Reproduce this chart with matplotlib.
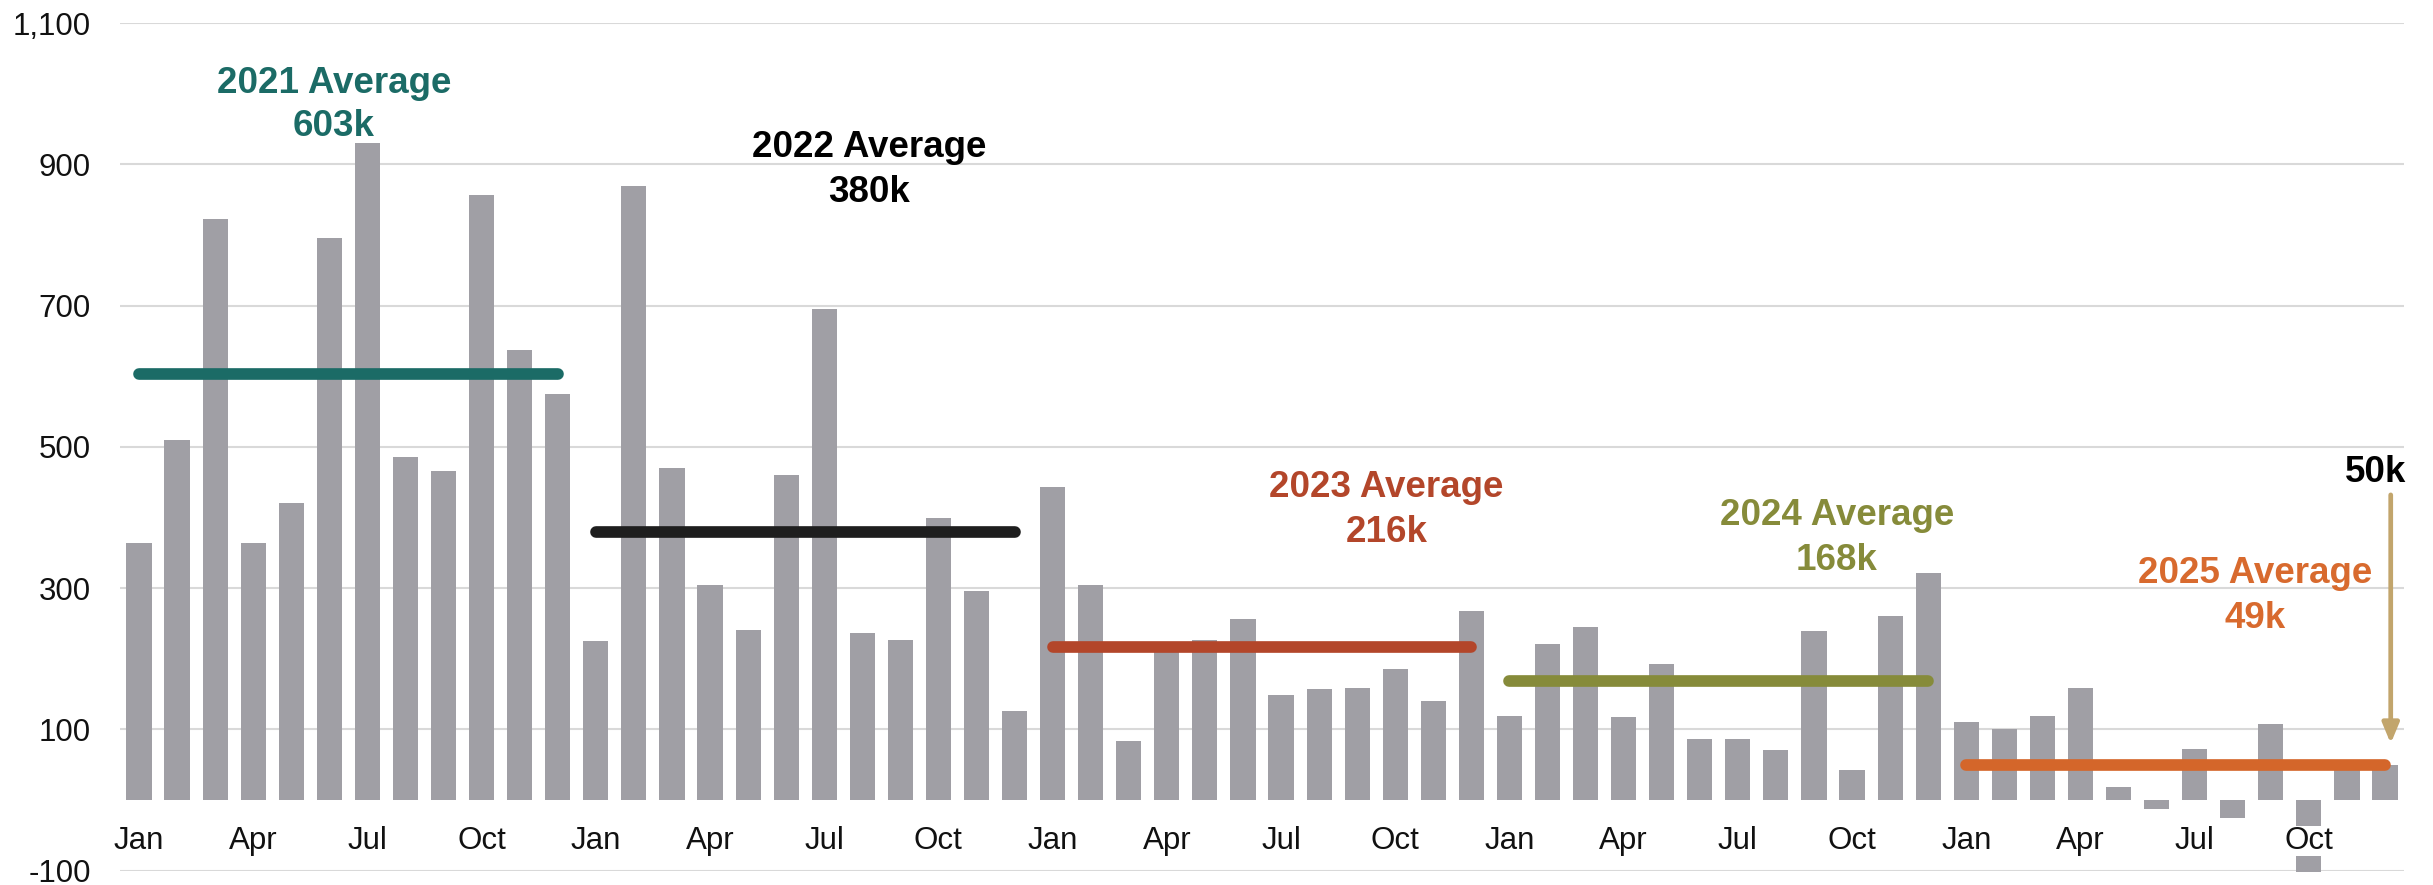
import numpy as np
import matplotlib
matplotlib.use('Agg')
import matplotlib.pyplot as plt
from matplotlib.ticker import FuncFormatter

plt.rcParams['font.family'] = ['Liberation Sans', 'DejaVu Sans']

# monthly values (thousands), Jan 2021 - Dec 2025
vals_2021 = [364, 509, 823, 364, 421, 796, 930, 486, 466, 856, 637, 575]
vals_2022 = [225, 869, 470, 304, 241, 460, 695, 236, 226, 399, 296, 126]
vals_2023 = [443, 305, 84, 210, 226, 256, 148, 157, 158, 185, 140, 268]
vals_2024 = [119, 221, 245, 117, 192, 86, 87, 71, 239, 43, 260, 322]
vals_2025 = [110, 101, 119, 158, 18, -13, 72, -26, 107, -102, 49, 50]

years = ['2021', '2022', '2023', '2024', '2025']
averages = [603, 380, 216, 168, 49]
avg_colors = ['#1b6b66', '#1e1e1e', '#b3462a', '#868b3a', '#d4662a']
text_colors = ['#1b6b66', '#000000', '#b3462a', '#868b3a', '#d86a2e']
month_labels = ['Jan', 'Apr', 'Jul', 'Oct']
yticks = list(range(-100, 1101, 200))

values = vals_2021 + vals_2022 + vals_2023 + vals_2024 + vals_2025
x = np.arange(len(values))

fig = plt.figure(figsize=(24.33, 8.85), dpi=100)
ax = fig.add_axes([0.0493, 0.0162, 0.9388, 0.9578])

ax.set_axisbelow(True)
ax.grid(axis='y', color='#d9d9d9', linewidth=1.5)
ax.grid(axis='x', visible=False)

bars = ax.bar(x, values, width=0.66, color='#a09fa5', zorder=2)
bars[-3].set_clip_on(False)

# yearly average lines
for i, (avg, col) in enumerate(zip(averages, avg_colors)):
    ax.plot([12 * i, 12 * i + 11], [avg, avg], color=col, lw=8.4,
            solid_capstyle='round', zorder=3)

# average labels: (x, y line 1, y line 2)
label_pos = [(5.12, 1001, 940), (19.17, 910, 847), (32.77, 429, 365),
             (44.6, 389, 325), (55.6, 307, 243)]
for yr, avg, col, (lx, y1, y2) in zip(years, averages, text_colors, label_pos):
    ax.text(lx, y1, f'{yr} Average', ha='center', va='baseline', color=col,
            fontsize=26.5, fontweight='bold', zorder=5)
    ax.text(lx, y2, f'{avg}k', ha='center', va='baseline', color=col,
            fontsize=26.5, fontweight='bold', zorder=5)

# latest month callout
ax.text(59.55, 450, '50k', ha='right', va='baseline', color='black',
        fontsize=26.5, fontweight='bold', zorder=5)
ax.annotate('', xy=(59.15, 80), xytext=(59.15, 432),
            arrowprops=dict(arrowstyle='-|>,head_length=0.6,head_width=0.25',
                            color='#c2a56c', lw=3.4, mutation_scale=20,
                            shrinkA=0, shrinkB=0), zorder=4)

# month labels sit inside the plot, just below zero
for yi in range(len(years)):
    for k, m in enumerate(month_labels):
        ax.text(12 * yi + 3 * k, -69, m, ha='center', va='baseline',
                fontsize=22.5, color='#111111', zorder=6,
                bbox=dict(facecolor='white', edgecolor='none', pad=0))

ax.set_xlim(-0.5, 59.5)
ax.set_ylim(-100, 1100)
ax.set_yticks(yticks)
ax.yaxis.set_major_formatter(FuncFormatter(lambda v, p: f'{v:,.0f}'))
ax.set_xticks([])
ax.tick_params(axis='y', length=0, pad=21, labelsize=22.5, labelcolor='#111111')
for s in ax.spines.values():
    s.set_visible(False)

fig.savefig('out.png', dpi=100)
